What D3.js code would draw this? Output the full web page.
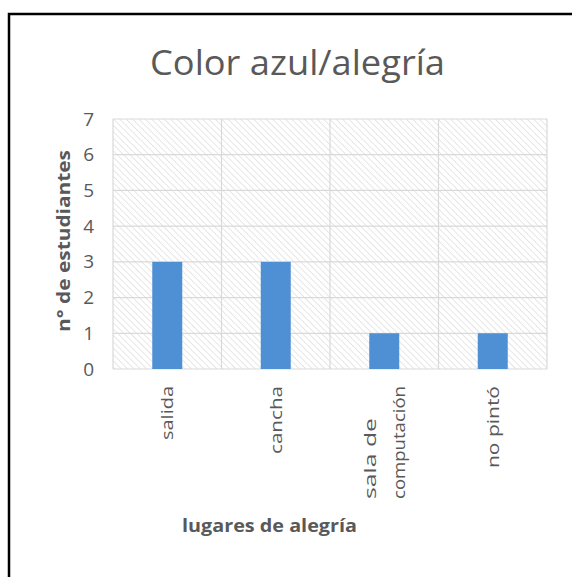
<!DOCTYPE html>
<html>
<head>
<meta charset="utf-8">
<script src="https://cdn.jsdelivr.net/npm/d3@7"></script>
<style>
  html, body { margin: 0; padding: 0; background: #fff; }
  svg { display: block; }
  text { font-family: "Open Sans", "Noto Sans", sans-serif; fill: #595959; }
</style>
</head>
<body>
<script>
// Chart data
const categories = ["salida", "cancha", "sala de\ncomputación", "no pintó"];
const values = [3, 3, 1, 1];
const yTicks = [0, 1, 2, 3, 4, 5, 6, 7];
const chartTitle = "Color azul/alegría";
const xTitle = "lugares de alegría";
const yTitle = "n° de estudiantes";

const W = 572, H = 577;
const plot = { left: 113, right: 547, top: 119, bottom: 369 };

const svg = d3.select("body").append("svg")
  .attr("width", W).attr("height", H);

// diagonal hatching used as plot-area background
const defs = svg.append("defs");
const pat = defs.append("pattern")
  .attr("id", "hatch")
  .attr("patternUnits", "userSpaceOnUse")
  .attr("width", 4.5).attr("height", 4.5)
  .attr("patternTransform", "rotate(-45)");
pat.append("line")
  .attr("x1", 0).attr("y1", 0).attr("x2", 0).attr("y2", 4.5)
  .attr("stroke", "#d2d2d2").attr("stroke-width", 1.1);

// outer frame
svg.append("rect")
  .attr("x", 9).attr("y", 14)
  .attr("width", W + 20).attr("height", H + 20)
  .attr("fill", "none").attr("stroke", "#000").attr("stroke-width", 2.5);

const x = d3.scaleBand()
  .domain(categories)
  .range([plot.left, plot.right])
  .paddingInner(0).paddingOuter(0);

const y = d3.scaleLinear()
  .domain([0, 7])
  .range([plot.bottom, plot.top]);

// plot background
svg.append("rect")
  .attr("x", plot.left).attr("y", plot.top)
  .attr("width", plot.right - plot.left)
  .attr("height", plot.bottom - plot.top)
  .attr("fill", "url(#hatch)");

// horizontal gridlines
svg.append("g")
  .selectAll("line")
  .data(yTicks)
  .join("line")
  .attr("x1", plot.left).attr("x2", plot.right)
  .attr("y1", d => y(d)).attr("y2", d => y(d))
  .attr("stroke", "#d9d9d9").attr("stroke-width", 1.2);

// vertical category separators
const seps = categories.map(c => x(c)).concat([plot.right]);
svg.append("g")
  .selectAll("line")
  .data(seps)
  .join("line")
  .attr("x1", d => d).attr("x2", d => d)
  .attr("y1", plot.top).attr("y2", plot.bottom)
  .attr("stroke", "#d9d9d9").attr("stroke-width", 1.2);

// bars
const barW = 30;
svg.append("g")
  .selectAll("rect")
  .data(categories.map((c, i) => ({ c, v: values[i] })))
  .join("rect")
  .attr("x", d => x(d.c) + x.bandwidth() / 2 - barW / 2)
  .attr("y", d => y(d.v))
  .attr("width", barW)
  .attr("height", d => y(0) - y(d.v))
  .attr("fill", "#4f8fd4");

// y axis tick labels
const yAxis = d3.axisLeft(y).tickValues(yTicks).tickSize(0).tickPadding(0)
  .tickFormat(d3.format("d"));
const gy = svg.append("g")
  .attr("transform", `translate(${plot.left - 19},0)`)
  .call(yAxis);
gy.select(".domain").remove();
gy.selectAll("text")
  .attr("font-size", 19)
  .attr("font-family", "\"Open Sans\", sans-serif")
  .attr("fill", "#595959");

// x axis category labels, rotated; multi-line labels share a common start
const labelLen = {
  "salida": 54, "cancha": 68, "sala de": 81, "computación": 113, "no pintó": 82
};
const gx = svg.append("g");
categories.forEach(c => {
  const lines = c.split("\n");
  const cx = x(c) + x.bandwidth() / 2;
  const lh = 29;
  const blockTop = plot.bottom + 17;
  if (lines.length === 1) {
    gx.append("text")
      .attr("transform", `translate(${cx + 6},${blockTop}) rotate(-90)`)
      .attr("text-anchor", "end")
      .attr("font-size", 16.5)
      .attr("textLength", labelLen[c])
      .attr("lengthAdjust", "spacingAndGlyphs")
      .text(c);
  } else {
    const longest = d3.max(lines, l => labelLen[l]);
    const startY = blockTop + longest;
    lines.forEach((ln, i) => {
      const off = (i - (lines.length - 1) / 2) * lh;
      gx.append("text")
        .attr("transform", `translate(${cx + off + 6},${startY}) rotate(-90)`)
        .attr("text-anchor", "start")
        .attr("font-size", 16.5)
        .attr("textLength", labelLen[ln])
        .attr("lengthAdjust", "spacingAndGlyphs")
        .text(ln);
    });
  }
});

// titles
svg.append("text")
  .attr("x", 150).attr("y", 75)
  .attr("font-size", 35)
  .attr("textLength", 295)
  .attr("lengthAdjust", "spacingAndGlyphs")
  .text(chartTitle);

svg.append("text")
  .attr("x", 182).attr("y", 532)
  .attr("font-size", 18)
  .attr("font-weight", "bold")
  .attr("textLength", 175)
  .attr("lengthAdjust", "spacingAndGlyphs")
  .text(xTitle);

svg.append("text")
  .attr("transform", `translate(70,332) rotate(-90)`)
  .attr("font-size", 18.5)
  .attr("font-weight", "bold")
  .attr("textLength", 182)
  .attr("lengthAdjust", "spacingAndGlyphs")
  .text(yTitle);
</script>
</body>
</html>
